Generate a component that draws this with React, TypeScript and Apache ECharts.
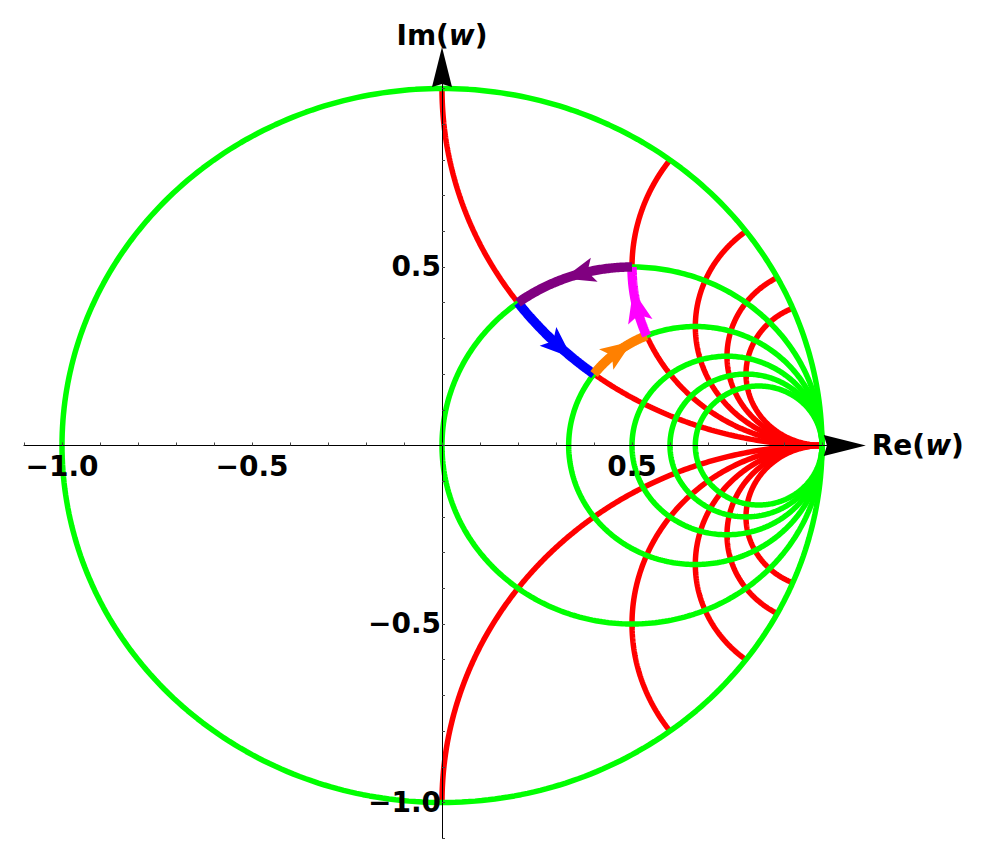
import React, { useEffect, useRef } from "react";
import * as echarts from "echarts";

// Smith chart grid: constant-resistance circles and constant-reactance arcs
const resistanceValues = [0, 1, 2, 3, 4, 5];
const reactanceValues = [1, 2, 3, 4, 5, -1, -2, -3, -4, -5];

// Tick labels
const xLabelValues = [-1, -0.5, 0.5];
const xTickLabels = ["\u22121.0", "\u22120.5", "0.5"];
const yLabelValues = [-1, -0.5, 0.5];
const yTickLabels = ["\u22121.0", "\u22120.5", "0.5"];

// Impedance trajectory: kind 'x' = along constant reactance (r varies),
// kind 'r' = along constant resistance (x varies)
const pathKinds = ["x", "r", "x", "r"];
const pathFixed = [1, 2, 2, 1];
const pathFrom = [1, 1, 2, 2];
const pathTo = [2, 2, 1, 1];
const pathColors = ["#0000ff", "#ff8000", "#ff00ff", "#800080"];

const FONT = "DejaVu Sans";

// grid placement (pixels)
const GRID_LEFT = 24;
const GRID_TOP = 67.08;
const GRID_W = 820.8;
const GRID_H = 771.1;
const X_MIN = -1.1;
const X_MAX = 1.06;
const Y_MIN = -1.1;
const Y_MAX = 1.06;

function gamma(r: number, x: number): [number, number] {
  const d = (r + 1) * (r + 1) + x * x;
  return [(r * r - 1 + x * x) / d, (2 * x) / d];
}

function resistanceCircle(r: number): [number, number][] {
  const c = r / (1 + r);
  const rad = 1 / (1 + r);
  const pts: [number, number][] = [];
  const n = 360;
  for (let i = 0; i <= n; i++) {
    const t = (i / n) * Math.PI * 2;
    pts.push([c + rad * Math.cos(t), rad * Math.sin(t)]);
  }
  return pts;
}

function reactanceArc(x: number): [number, number][] {
  const pts: [number, number][] = [];
  const n = 300;
  for (let i = 0; i < n; i++) {
    const phi = (i / n) * (Math.PI / 2);
    pts.push(gamma(Math.tan(phi), x));
  }
  pts.push([1, 0]);
  return pts;
}

function pathPoint(k: number, t: number): [number, number] {
  const v = pathFrom[k] + (pathTo[k] - pathFrom[k]) * t;
  return pathKinds[k] === "x" ? gamma(v, pathFixed[k]) : gamma(pathFixed[k], v);
}

function pathSegment(k: number): [number, number][] {
  const pts: [number, number][] = [];
  const n = 80;
  for (let i = 0; i <= n; i++) pts.push(pathPoint(k, i / n));
  return pts;
}

function labelFor(values: number[], labels: string[]) {
  return (v: number) => {
    const i = values.findIndex((t) => Math.abs(t - v) < 1e-6);
    return i >= 0 ? labels[i] : "";
  };
}

const arrowSymbol = "path://M10,0L20,40L10,37L0,40Z";

export default function App() {
  const ref = useRef<HTMLDivElement>(null);

  useEffect(() => {
    if (!ref.current) return;
    const chart = echarts.init(ref.current, null, { renderer: "svg" });

    const series: any[] = [];
    reactanceValues.forEach((x) => {
      series.push({
        type: "line",
        data: reactanceArc(x),
        symbol: "none",
        silent: true,
        lineStyle: { color: "#ff0000", width: 5.5 },
        z: 2,
      });
    });
    resistanceValues.forEach((r) => {
      series.push({
        type: "line",
        data: resistanceCircle(r),
        symbol: "none",
        silent: true,
        lineStyle: { color: "#00ff00", width: 5.5 },
        z: 3,
      });
    });
    pathColors.forEach((col, k) => {
      series.push({
        type: "line",
        data: pathSegment(k),
        symbol: "none",
        silent: true,
        lineStyle: { color: col, width: 9.5, cap: "butt" },
        z: 4,
      });
    });
    const arrowData = pathColors.map((_, k) => {
      const a = pathPoint(k, 0.5);
      const b = pathPoint(k, 0.52);
      return [a[0], a[1], b[0], b[1]];
    });
    series.push({
      type: "custom",
      silent: true,
      z: 5,
      data: arrowData,
      encode: { x: [0, 2], y: [1, 3] },
      renderItem: (params: any, api: any) => {
        const a = api.coord([api.value(0), api.value(1)]);
        const b = api.coord([api.value(2), api.value(3)]);
        let dx = b[0] - a[0];
        let dy = b[1] - a[1];
        const len = Math.hypot(dx, dy) || 1;
        dx /= len;
        dy /= len;
        const L = 32;
        const W = 12.5;
        const tip = [a[0] + dx * L * 0.5, a[1] + dy * L * 0.5];
        const back = [a[0] - dx * L * 0.5, a[1] - dy * L * 0.5];
        const px = -dy;
        const py = dx;
        const notch = [back[0] + dx * 7, back[1] + dy * 7];
        return {
          type: "polygon",
          shape: {
            points: [
              tip,
              [back[0] + px * W, back[1] + py * W],
              notch,
              [back[0] - px * W, back[1] - py * W],
            ],
          },
          style: { fill: pathColors[params.dataIndex] },
        };
      },
    });

    const labelStyle = {
      fontFamily: FONT,
      fontWeight: "bold" as const,
      fontSize: 28,
      color: "#000",
    };
    const nameRich = {
      a: { ...labelStyle },
      b: { ...labelStyle, fontStyle: "italic" as const },
    };

    // move axes so that they cross at the origin
    const zeroFromBottom = (0 - Y_MIN) / (Y_MAX - Y_MIN) * GRID_H;
    const zeroFromLeft = (0 - X_MIN) / (X_MAX - X_MIN) * GRID_W;

    chart.setOption({
      animation: false,
      grid: {
        left: GRID_LEFT,
        top: GRID_TOP,
        width: GRID_W,
        height: GRID_H,
        containLabel: false,
        outerBoundsMode: "none",
      },
      xAxis: {
        type: "value",
        min: X_MIN,
        max: X_MAX,
        interval: 0.1,
        position: "bottom",
        offset: -zeroFromBottom,
        z: 10,
        name: "{a|Re(}{b|w}{a|)}",
        nameLocation: "end",
        nameGap: 27,
        nameTextStyle: { ...labelStyle, rich: nameRich },
        splitLine: { show: false },
        axisLine: {
          onZero: false,
          symbol: ["none", arrowSymbol],
          symbolSize: [22, 42],
          lineStyle: { color: "#000", width: 1 },
        },
        axisTick: { show: true, inside: true, length: 3, lineStyle: { color: "#444" } },
        axisLabel: { ...labelStyle, margin: 7, formatter: labelFor(xLabelValues, xTickLabels) },
      },
      yAxis: {
        type: "value",
        min: Y_MIN,
        max: Y_MAX,
        interval: 0.1,
        position: "left",
        offset: -zeroFromLeft,
        z: 10,
        name: "{a|Im(}{b|w}{a|)}",
        nameLocation: "end",
        nameGap: 18,
        nameTextStyle: { ...labelStyle, rich: nameRich },
        splitLine: { show: false },
        axisLine: {
          onZero: false,
          symbol: ["none", arrowSymbol],
          symbolSize: [21, 40],
          lineStyle: { color: "#000", width: 1 },
        },
        axisTick: { show: true, inside: true, length: 3, lineStyle: { color: "#444" } },
        axisLabel: { ...labelStyle, margin: 1, formatter: labelFor(yLabelValues, yTickLabels) },
      },
      series,
    });

    return () => chart.dispose();
  }, []);

  return (
    <div
      ref={ref}
      style={{ position: "fixed", left: 0, top: 0, width: 982, height: 843, background: "#fff" }}
    />
  );
}
